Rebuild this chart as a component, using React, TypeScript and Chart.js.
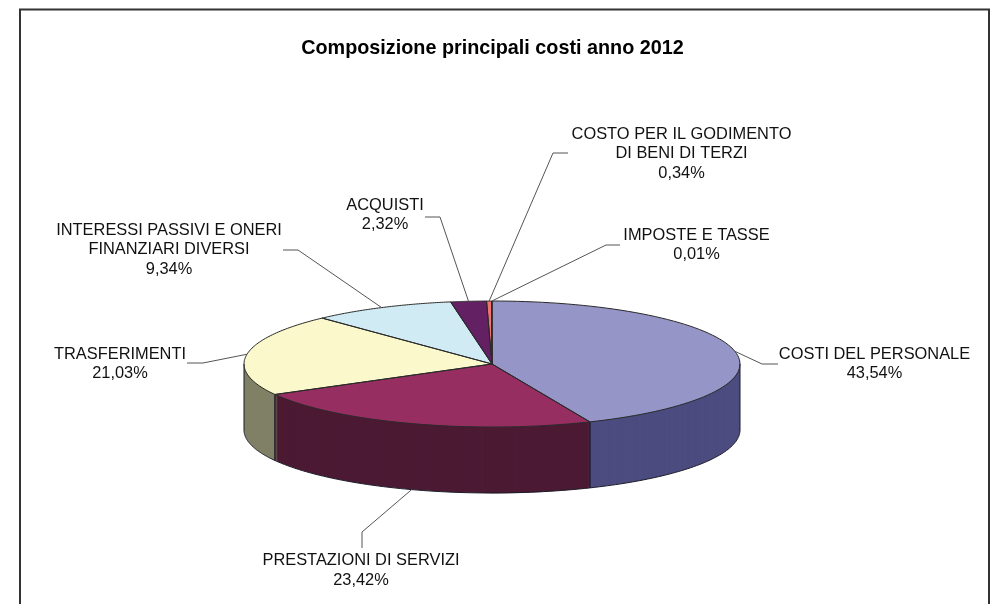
import React, { useEffect, useRef } from "react";
import { Chart, registerables } from "chart.js";

Chart.register(...registerables);

const categories = [
  "COSTI DEL PERSONALE",
  "PRESTAZIONI DI SERVIZI",
  "TRASFERIMENTI",
  "INTERESSI PASSIVI E ONERI FINANZIARI DIVERSI",
  "ACQUISTI",
  "COSTO PER IL GODIMENTO DI BENI DI TERZI",
  "IMPOSTE E TASSE",
];
const values = [43.54, 23.42, 21.03, 9.34, 2.32, 0.34, 0.01];
const labelLines = [
  ["COSTI DEL PERSONALE"],
  ["PRESTAZIONI DI SERVIZI"],
  ["TRASFERIMENTI"],
  ["INTERESSI PASSIVI E ONERI", "FINANZIARI DIVERSI"],
  ["ACQUISTI"],
  ["COSTO PER IL GODIMENTO", "DI BENI DI TERZI"],
  ["IMPOSTE E TASSE"],
];
const topColors = ["#9595C7", "#962E61", "#FBF8CC", "#D0EBF3", "#632063", "#F07272", "#3A6EA5"];
const sideColors = ["#4C4C80", "#4C1A33", "#808066", "#668080", "#330033", "#803C3C", "#1C3A5C"];

// label placement: text centre x, first line centre y, leader elbow points
const labelCenterX = [874.5, 361, 120, 169, 385, 681.5, 696.5];
const labelFirstY = [354, 560.5, 354, 230, 205, 134, 235];
const leaderElbows: number[][][] = [
  [[762, 364], [778, 364]],
  [[362, 532], [362, 548]],
  [[203, 363], [187, 363]],
  [[298, 250], [283, 250]],
  [[440, 217], [425, 217]],
  [[553, 153], [568, 153]],
  [[606, 245], [620, 245]],
];

const PIE_CX = 492;
const PIE_CY = 364;
const RX = 248;
const RY = 63;
const DEPTH = 66;
const LINE_GAP = 19.7;
const FONT = '"Liberation Sans", Arial, sans-serif';

const pie3d = {
  id: "pie3d",
  beforeDraw(chart: any) {
    const { ctx, width, height } = chart;
    ctx.save();
    ctx.fillStyle = "#ffffff";
    ctx.fillRect(0, 0, width, height);
    ctx.strokeStyle = "#333333";
    ctx.lineWidth = 2;
    ctx.beginPath();
    ctx.moveTo(20, height);
    ctx.lineTo(20, 9.5);
    ctx.lineTo(989, 9.5);
    ctx.lineTo(989, height);
    ctx.stroke();
    ctx.restore();
  },
  beforeDatasetsDraw(chart: any) {
    const { ctx } = chart;
    const arcs = chart.getDatasetMeta(0).data;
    const k = RY / RX;
    const project = (el: any, dy: number) => {
      ctx.translate(PIE_CX, PIE_CY + dy);
      ctx.scale(1, k);
      ctx.translate(-el.x, -el.y);
    };
    const paint = (el: any, dy: number, color: string) => {
      const clone = Object.create(el);
      clone.options = { ...el.options, backgroundColor: color, borderColor: color, borderWidth: 0 };
      ctx.save();
      project(el, dy);
      clone.draw(ctx);
      ctx.restore();
    };
    const toScreen = (el: any, a: number, dy: number) => [
      PIE_CX + Math.cos(a) * RX,
      PIE_CY + dy + Math.sin(a) * RY,
    ];

    // side wall: the same arcs stacked downward in their darker colour
    for (let dy = DEPTH; dy > 0; dy--) {
      arcs.forEach((el: any, i: number) => paint(el, dy, sideColors[i]));
    }
    // top face
    arcs.forEach((el: any, i: number) => paint(el, 0, topColors[i]));

    // wall outlines
    ctx.save();
    ctx.lineWidth = 1;
    ctx.strokeStyle = "#1c1c2a";
    arcs.forEach((el: any) => {
      const a0 = Math.max(el.startAngle, 0);
      const a1 = Math.min(el.endAngle, Math.PI);
      if (a1 <= a0) return;
      ctx.beginPath();
      for (let s = 0; s <= 60; s++) {
        const [x, y] = toScreen(el, a0 + ((a1 - a0) * s) / 60, DEPTH);
        s ? ctx.lineTo(x, y) : ctx.moveTo(x, y);
      }
      ctx.stroke();
      [a0, a1].forEach((a) => {
        const [x, y] = toScreen(el, a, 0);
        ctx.beginPath();
        ctx.moveTo(x, y);
        ctx.lineTo(x, y + DEPTH);
        ctx.stroke();
      });
    });
    // top face outlines
    arcs.forEach((el: any) => {
      ctx.beginPath();
      ctx.moveTo(PIE_CX, PIE_CY);
      const n = 80;
      for (let s = 0; s <= n; s++) {
        const [x, y] = toScreen(el, el.startAngle + ((el.endAngle - el.startAngle) * s) / n, 0);
        ctx.lineTo(x, y);
      }
      ctx.closePath();
      ctx.strokeStyle = "#2a2a2a";
      ctx.stroke();
    });
    ctx.restore();

    // leaders and labels
    ctx.save();
    arcs.forEach((el: any, i: number) => {
      const mid = (el.startAngle + el.endAngle) / 2;
      const front = Math.sin(mid) > 0;
      const [ax, ay] = toScreen(el, mid, front ? DEPTH : 0);
      ctx.beginPath();
      ctx.moveTo(ax, ay);
      leaderElbows[i].forEach(([x, y]) => ctx.lineTo(x, y));
      ctx.strokeStyle = "#555555";
      ctx.lineWidth = 1;
      ctx.stroke();

      ctx.fillStyle = "#111111";
      ctx.font = `16.4px ${FONT}`;
      ctx.textAlign = "center";
      ctx.textBaseline = "middle";
      const lines = [...labelLines[i], values[i].toFixed(2).replace(".", ",") + "%"];
      lines.forEach((t, j) => ctx.fillText(t, labelCenterX[i], labelFirstY[i] + j * LINE_GAP));
    });
    ctx.restore();
    return false;
  },
};

export default function App() {
  const ref = useRef<HTMLCanvasElement>(null);
  useEffect(() => {
    const chart = new Chart(ref.current as HTMLCanvasElement, {
      type: "pie",
      data: {
        labels: categories,
        datasets: [{ data: values, backgroundColor: topColors, borderWidth: 0 }],
      },
      options: {
        animation: false,
        responsive: false,
        radius: RX,
        layout: { padding: { left: 0, right: 8, top: 0, bottom: 0 } },
        plugins: {
          legend: { display: false },
          tooltip: { enabled: false },
          title: {
            display: true,
            text: "Composizione principali costi anno 2012",
            color: "#000000",
            font: { family: FONT, size: 19.8, weight: "bold" },
            padding: { top: 37, bottom: 10 },
          },
        },
      } as any,
      plugins: [pie3d],
    });
    return () => chart.destroy();
  }, []);
  return (
    <div style={{ position: "absolute", left: 0, top: 0, width: 993, height: 604, overflow: "hidden" }}>
      <canvas ref={ref} width={993} height={604} style={{ display: "block" }} />
    </div>
  );
}
